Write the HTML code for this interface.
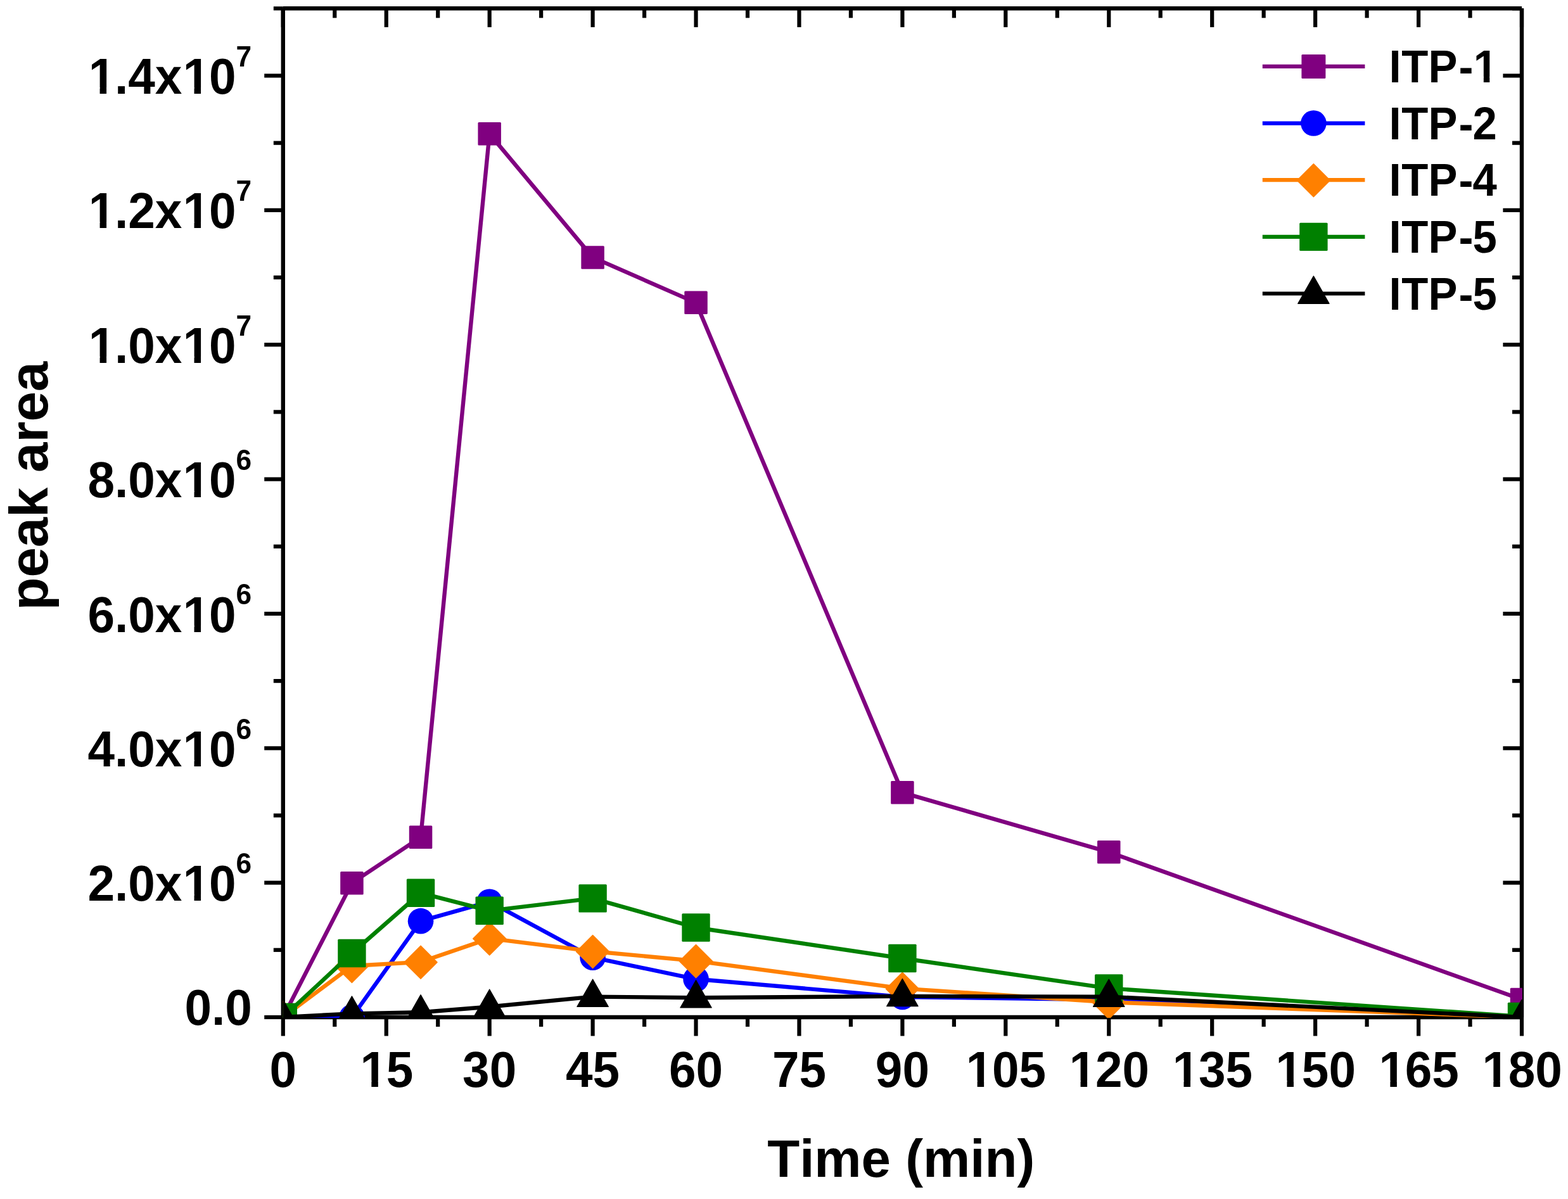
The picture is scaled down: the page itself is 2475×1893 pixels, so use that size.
<!DOCTYPE html>
<html lang="en"><head><meta charset="utf-8"><title>peak area vs Time (min)</title>
<style>html,body{margin:0;padding:0;background:#fff;}body{width:2475px;height:1893px;overflow:hidden;}svg{display:block;}text{font-family:'Liberation Sans', Arial, Helvetica, sans-serif;font-weight:bold;fill:#000;font-kerning:none;}</style></head><body>
<svg width="2475" height="1893" viewBox="0 0 2475 1893" role="img" aria-label="peak area versus Time (min) for ITP-1, ITP-2, ITP-4, ITP-5">
<rect width="2475" height="1893" fill="#fff"/>
<defs><clipPath id="plotclip"><rect x="446.5" y="13.3" width="1956.4" height="1593.7"/></clipPath></defs>
<g stroke="#000" stroke-width="6.4" stroke-linecap="butt" fill="none">
<line x1="446.8" y1="13.3" x2="2402" y2="13.3"/>
<line x1="446.8" y1="1606" x2="2402" y2="1606"/>
<line x1="446.8" y1="13.3" x2="446.8" y2="1606"/>
<line x1="2402" y1="13.3" x2="2402" y2="1606"/>
</g>
<g stroke="#000" stroke-width="6.2" stroke-linecap="butt">
<line x1="446.8" y1="1606" x2="446.8" y2="1635.6"/>
<line x1="446.8" y1="13.3" x2="446.8" y2="42.9"/>
<line x1="528.27" y1="1606" x2="528.27" y2="1621"/>
<line x1="528.27" y1="13.3" x2="528.27" y2="28.3"/>
<line x1="609.73" y1="1606" x2="609.73" y2="1635.6"/>
<line x1="609.73" y1="13.3" x2="609.73" y2="42.9"/>
<line x1="691.2" y1="1606" x2="691.2" y2="1621"/>
<line x1="691.2" y1="13.3" x2="691.2" y2="28.3"/>
<line x1="772.67" y1="1606" x2="772.67" y2="1635.6"/>
<line x1="772.67" y1="13.3" x2="772.67" y2="42.9"/>
<line x1="854.13" y1="1606" x2="854.13" y2="1621"/>
<line x1="854.13" y1="13.3" x2="854.13" y2="28.3"/>
<line x1="935.6" y1="1606" x2="935.6" y2="1635.6"/>
<line x1="935.6" y1="13.3" x2="935.6" y2="42.9"/>
<line x1="1017.07" y1="1606" x2="1017.07" y2="1621"/>
<line x1="1017.07" y1="13.3" x2="1017.07" y2="28.3"/>
<line x1="1098.53" y1="1606" x2="1098.53" y2="1635.6"/>
<line x1="1098.53" y1="13.3" x2="1098.53" y2="42.9"/>
<line x1="1180" y1="1606" x2="1180" y2="1621"/>
<line x1="1180" y1="13.3" x2="1180" y2="28.3"/>
<line x1="1261.47" y1="1606" x2="1261.47" y2="1635.6"/>
<line x1="1261.47" y1="13.3" x2="1261.47" y2="42.9"/>
<line x1="1342.93" y1="1606" x2="1342.93" y2="1621"/>
<line x1="1342.93" y1="13.3" x2="1342.93" y2="28.3"/>
<line x1="1424.4" y1="1606" x2="1424.4" y2="1635.6"/>
<line x1="1424.4" y1="13.3" x2="1424.4" y2="42.9"/>
<line x1="1505.87" y1="1606" x2="1505.87" y2="1621"/>
<line x1="1505.87" y1="13.3" x2="1505.87" y2="28.3"/>
<line x1="1587.33" y1="1606" x2="1587.33" y2="1635.6"/>
<line x1="1587.33" y1="13.3" x2="1587.33" y2="42.9"/>
<line x1="1668.8" y1="1606" x2="1668.8" y2="1621"/>
<line x1="1668.8" y1="13.3" x2="1668.8" y2="28.3"/>
<line x1="1750.27" y1="1606" x2="1750.27" y2="1635.6"/>
<line x1="1750.27" y1="13.3" x2="1750.27" y2="42.9"/>
<line x1="1831.73" y1="1606" x2="1831.73" y2="1621"/>
<line x1="1831.73" y1="13.3" x2="1831.73" y2="28.3"/>
<line x1="1913.2" y1="1606" x2="1913.2" y2="1635.6"/>
<line x1="1913.2" y1="13.3" x2="1913.2" y2="42.9"/>
<line x1="1994.67" y1="1606" x2="1994.67" y2="1621"/>
<line x1="1994.67" y1="13.3" x2="1994.67" y2="28.3"/>
<line x1="2076.13" y1="1606" x2="2076.13" y2="1635.6"/>
<line x1="2076.13" y1="13.3" x2="2076.13" y2="42.9"/>
<line x1="2157.6" y1="1606" x2="2157.6" y2="1621"/>
<line x1="2157.6" y1="13.3" x2="2157.6" y2="28.3"/>
<line x1="2239.07" y1="1606" x2="2239.07" y2="1635.6"/>
<line x1="2239.07" y1="13.3" x2="2239.07" y2="42.9"/>
<line x1="2320.53" y1="1606" x2="2320.53" y2="1621"/>
<line x1="2320.53" y1="13.3" x2="2320.53" y2="28.3"/>
<line x1="2402" y1="1606" x2="2402" y2="1635.6"/>
<line x1="2402" y1="13.3" x2="2402" y2="42.9"/>
<line x1="417.2" y1="1606" x2="446.8" y2="1606"/>
<line x1="2372.4" y1="1606" x2="2402" y2="1606"/>
<line x1="431.8" y1="1499.82" x2="446.8" y2="1499.82"/>
<line x1="2387" y1="1499.82" x2="2402" y2="1499.82"/>
<line x1="417.2" y1="1393.64" x2="446.8" y2="1393.64"/>
<line x1="2372.4" y1="1393.64" x2="2402" y2="1393.64"/>
<line x1="431.8" y1="1287.46" x2="446.8" y2="1287.46"/>
<line x1="2387" y1="1287.46" x2="2402" y2="1287.46"/>
<line x1="417.2" y1="1181.29" x2="446.8" y2="1181.29"/>
<line x1="2372.4" y1="1181.29" x2="2402" y2="1181.29"/>
<line x1="431.8" y1="1075.11" x2="446.8" y2="1075.11"/>
<line x1="2387" y1="1075.11" x2="2402" y2="1075.11"/>
<line x1="417.2" y1="968.93" x2="446.8" y2="968.93"/>
<line x1="2372.4" y1="968.93" x2="2402" y2="968.93"/>
<line x1="431.8" y1="862.75" x2="446.8" y2="862.75"/>
<line x1="2387" y1="862.75" x2="2402" y2="862.75"/>
<line x1="417.2" y1="756.57" x2="446.8" y2="756.57"/>
<line x1="2372.4" y1="756.57" x2="2402" y2="756.57"/>
<line x1="431.8" y1="650.39" x2="446.8" y2="650.39"/>
<line x1="2387" y1="650.39" x2="2402" y2="650.39"/>
<line x1="417.2" y1="544.21" x2="446.8" y2="544.21"/>
<line x1="2372.4" y1="544.21" x2="2402" y2="544.21"/>
<line x1="431.8" y1="438.04" x2="446.8" y2="438.04"/>
<line x1="2387" y1="438.04" x2="2402" y2="438.04"/>
<line x1="417.2" y1="331.86" x2="446.8" y2="331.86"/>
<line x1="2372.4" y1="331.86" x2="2402" y2="331.86"/>
<line x1="431.8" y1="225.68" x2="446.8" y2="225.68"/>
<line x1="2387" y1="225.68" x2="2402" y2="225.68"/>
<line x1="417.2" y1="119.5" x2="446.8" y2="119.5"/>
<line x1="2372.4" y1="119.5" x2="2402" y2="119.5"/>
<line x1="431.8" y1="13.32" x2="446.8" y2="13.32"/>
<line x1="2387" y1="13.32" x2="2402" y2="13.32"/>
</g>
<text transform="translate(446.8 1716) scale(0.994 1.031)" font-size="77" text-anchor="middle">0</text>
<g transform="translate(609.73 1716) scale(0.994 1.031)"><text x="-42.82" dx="1.31 -1.31" font-size="77" text-anchor="start">15</text><g fill="#fff"><rect x="-37.75" y="-9.74" width="14.21" height="10.49"/><rect x="-12.98" y="-9.74" width="13.2" height="10.49"/></g></g>
<text transform="translate(772.67 1716) scale(0.994 1.031)" font-size="77" text-anchor="middle">30</text>
<text transform="translate(935.6 1716) scale(0.994 1.031)" font-size="77" text-anchor="middle">45</text>
<text transform="translate(1098.53 1716) scale(0.994 1.031)" font-size="77" text-anchor="middle">60</text>
<text transform="translate(1261.47 1716) scale(0.994 1.031)" font-size="77" text-anchor="middle">75</text>
<text transform="translate(1424.4 1716) scale(0.994 1.031)" font-size="77" text-anchor="middle">90</text>
<g transform="translate(1587.33 1716) scale(0.994 1.031)"><text x="-64.24" dx="1.31 -1.31 0" font-size="77" text-anchor="start">105</text><g fill="#fff"><rect x="-59.17" y="-9.74" width="14.21" height="10.49"/><rect x="-34.39" y="-9.74" width="13.2" height="10.49"/></g></g>
<g transform="translate(1750.27 1716) scale(0.994 1.031)"><text x="-64.24" dx="1.31 -1.31 0" font-size="77" text-anchor="start">120</text><g fill="#fff"><rect x="-59.17" y="-9.74" width="14.21" height="10.49"/><rect x="-34.39" y="-9.74" width="13.2" height="10.49"/></g></g>
<g transform="translate(1913.2 1716) scale(0.994 1.031)"><text x="-64.24" dx="1.31 -1.31 0" font-size="77" text-anchor="start">135</text><g fill="#fff"><rect x="-59.17" y="-9.74" width="14.21" height="10.49"/><rect x="-34.39" y="-9.74" width="13.2" height="10.49"/></g></g>
<g transform="translate(2076.13 1716) scale(0.994 1.031)"><text x="-64.24" dx="1.31 -1.31 0" font-size="77" text-anchor="start">150</text><g fill="#fff"><rect x="-59.17" y="-9.74" width="14.21" height="10.49"/><rect x="-34.39" y="-9.74" width="13.2" height="10.49"/></g></g>
<g transform="translate(2239.07 1716) scale(0.994 1.031)"><text x="-64.24" dx="1.31 -1.31 0" font-size="77" text-anchor="start">165</text><g fill="#fff"><rect x="-59.17" y="-9.74" width="14.21" height="10.49"/><rect x="-34.39" y="-9.74" width="13.2" height="10.49"/></g></g>
<g transform="translate(2402 1716) scale(0.994 1.031)"><text x="-64.24" dx="1.31 -1.31 0" font-size="77" text-anchor="start">180</text><g fill="#fff"><rect x="-59.17" y="-9.74" width="14.21" height="10.49"/><rect x="-34.39" y="-9.74" width="13.2" height="10.49"/></g></g>
<text transform="translate(397.8 1618.4) scale(0.994 1.031)" font-size="77" text-anchor="end">0.0</text>
<g transform="translate(372.5 1422.24) scale(0.994 1.031)"><text x="-235.51" dx="0 0 0 0 1.31 -1.31" font-size="77" text-anchor="start">2.0x10</text><g fill="#fff"><rect x="-80.58" y="-9.74" width="14.21" height="10.49"/><rect x="-55.8" y="-9.74" width="13.2" height="10.49"/></g></g>
<text transform="translate(372.5 1379.04) scale(0.994 1.031)" font-size="44.5" text-anchor="start">6</text>
<g transform="translate(372.5 1209.89) scale(0.994 1.031)"><text x="-235.51" dx="0 0 0 0 1.31 -1.31" font-size="77" text-anchor="start">4.0x10</text><g fill="#fff"><rect x="-80.58" y="-9.74" width="14.21" height="10.49"/><rect x="-55.8" y="-9.74" width="13.2" height="10.49"/></g></g>
<text transform="translate(372.5 1166.69) scale(0.994 1.031)" font-size="44.5" text-anchor="start">6</text>
<g transform="translate(372.5 997.53) scale(0.994 1.031)"><text x="-235.51" dx="0 0 0 0 1.31 -1.31" font-size="77" text-anchor="start">6.0x10</text><g fill="#fff"><rect x="-80.58" y="-9.74" width="14.21" height="10.49"/><rect x="-55.8" y="-9.74" width="13.2" height="10.49"/></g></g>
<text transform="translate(372.5 954.33) scale(0.994 1.031)" font-size="44.5" text-anchor="start">6</text>
<g transform="translate(372.5 785.17) scale(0.994 1.031)"><text x="-235.51" dx="0 0 0 0 1.31 -1.31" font-size="77" text-anchor="start">8.0x10</text><g fill="#fff"><rect x="-80.58" y="-9.74" width="14.21" height="10.49"/><rect x="-55.8" y="-9.74" width="13.2" height="10.49"/></g></g>
<text transform="translate(372.5 741.97) scale(0.994 1.031)" font-size="44.5" text-anchor="start">6</text>
<g transform="translate(372.5 572.81) scale(0.994 1.031)"><text x="-235.51" dx="1.31 -1.31 0 0 1.31 -1.31" font-size="77" text-anchor="start">1.0x10</text><g fill="#fff"><rect x="-230.44" y="-9.74" width="14.21" height="10.49"/><rect x="-205.67" y="-9.74" width="13.2" height="10.49"/><rect x="-80.58" y="-9.74" width="14.21" height="10.49"/><rect x="-55.8" y="-9.74" width="13.2" height="10.49"/></g></g>
<text transform="translate(372.5 529.61) scale(0.994 1.031)" font-size="44.5" text-anchor="start">7</text>
<g transform="translate(372.5 360.46) scale(0.994 1.031)"><text x="-235.51" dx="1.31 -1.31 0 0 1.31 -1.31" font-size="77" text-anchor="start">1.2x10</text><g fill="#fff"><rect x="-230.44" y="-9.74" width="14.21" height="10.49"/><rect x="-205.67" y="-9.74" width="13.2" height="10.49"/><rect x="-80.58" y="-9.74" width="14.21" height="10.49"/><rect x="-55.8" y="-9.74" width="13.2" height="10.49"/></g></g>
<text transform="translate(372.5 317.26) scale(0.994 1.031)" font-size="44.5" text-anchor="start">7</text>
<g transform="translate(372.5 148.1) scale(0.994 1.031)"><text x="-235.51" dx="1.31 -1.31 0 0 1.31 -1.31" font-size="77" text-anchor="start">1.4x10</text><g fill="#fff"><rect x="-230.44" y="-9.74" width="14.21" height="10.49"/><rect x="-205.67" y="-9.74" width="13.2" height="10.49"/><rect x="-80.58" y="-9.74" width="14.21" height="10.49"/><rect x="-55.8" y="-9.74" width="13.2" height="10.49"/></g></g>
<text transform="translate(372.5 104.9) scale(0.994 1.031)" font-size="44.5" text-anchor="start">7</text>
<text transform="translate(1422.2 1858.1) scale(0.994 1)" font-size="84" text-anchor="middle">Time (min)</text>
<text transform="translate(74.9 767.2) rotate(-90) scale(0.99 0.985)" font-size="86" text-anchor="middle">peak area</text>
<g clip-path="url(#plotclip)">
<polyline points="446.8,1606 555.42,1394.17 664.04,1321.87 772.67,211.34 935.6,406.39 1098.53,477.85 1424.4,1251.36 1750.27,1345.33 2402,1577.97" fill="none" stroke="#800080" stroke-width="6.4" stroke-linejoin="round" stroke-linecap="butt"/>
<rect x="428.55" y="1587.75" width="36.5" height="36.5" rx="1.5" fill="#800080"/>
<rect x="537.17" y="1375.92" width="36.5" height="36.5" rx="1.5" fill="#800080"/>
<rect x="645.79" y="1303.62" width="36.5" height="36.5" rx="1.5" fill="#800080"/>
<rect x="754.42" y="193.09" width="36.5" height="36.5" rx="1.5" fill="#800080"/>
<rect x="917.35" y="388.14" width="36.5" height="36.5" rx="1.5" fill="#800080"/>
<rect x="1080.28" y="459.6" width="36.5" height="36.5" rx="1.5" fill="#800080"/>
<rect x="1406.15" y="1233.11" width="36.5" height="36.5" rx="1.5" fill="#800080"/>
<rect x="1732.02" y="1327.08" width="36.5" height="36.5" rx="1.5" fill="#800080"/>
<rect x="2383.75" y="1559.72" width="36.5" height="36.5" rx="1.5" fill="#800080"/>
<polyline points="446.8,1606 555.42,1606 664.04,1454.16 772.67,1423.69 935.6,1511.71 1098.53,1545.8 1424.4,1573.93 1750.27,1578.39 2402,1606" fill="none" stroke="#0000FF" stroke-width="6.4" stroke-linejoin="round" stroke-linecap="butt"/>
<circle cx="446.8" cy="1606" r="20.3" fill="#0000FF"/>
<circle cx="555.42" cy="1606" r="20.3" fill="#0000FF"/>
<circle cx="664.04" cy="1454.16" r="20.3" fill="#0000FF"/>
<circle cx="772.67" cy="1423.69" r="20.3" fill="#0000FF"/>
<circle cx="935.6" cy="1511.71" r="20.3" fill="#0000FF"/>
<circle cx="1098.53" cy="1545.8" r="20.3" fill="#0000FF"/>
<circle cx="1424.4" cy="1573.93" r="20.3" fill="#0000FF"/>
<circle cx="1750.27" cy="1578.39" r="20.3" fill="#0000FF"/>
<circle cx="2402" cy="1606" r="20.3" fill="#0000FF"/>
<polyline points="446.8,1606 555.42,1524.99 664.04,1518.83 772.67,1481.56 935.6,1501.94 1098.53,1517.13 1424.4,1560.66 1750.27,1582.22 2402,1606" fill="none" stroke="#FF8000" stroke-width="6.4" stroke-linejoin="round" stroke-linecap="butt"/>
<polygon points="446.8,1580.5 472.8,1606.5 446.8,1632.5 420.8,1606.5" fill="#FF8000" stroke="#FF8000" stroke-width="1.5" stroke-linejoin="round"/>
<polygon points="555.42,1499.49 581.42,1525.49 555.42,1551.49 529.42,1525.49" fill="#FF8000" stroke="#FF8000" stroke-width="1.5" stroke-linejoin="round"/>
<polygon points="664.04,1493.33 690.04,1519.33 664.04,1545.33 638.04,1519.33" fill="#FF8000" stroke="#FF8000" stroke-width="1.5" stroke-linejoin="round"/>
<polygon points="772.67,1456.06 798.67,1482.06 772.67,1508.06 746.67,1482.06" fill="#FF8000" stroke="#FF8000" stroke-width="1.5" stroke-linejoin="round"/>
<polygon points="935.6,1476.44 961.6,1502.44 935.6,1528.44 909.6,1502.44" fill="#FF8000" stroke="#FF8000" stroke-width="1.5" stroke-linejoin="round"/>
<polygon points="1098.53,1491.63 1124.53,1517.63 1098.53,1543.63 1072.53,1517.63" fill="#FF8000" stroke="#FF8000" stroke-width="1.5" stroke-linejoin="round"/>
<polygon points="1424.4,1535.16 1450.4,1561.16 1424.4,1587.16 1398.4,1561.16" fill="#FF8000" stroke="#FF8000" stroke-width="1.5" stroke-linejoin="round"/>
<polygon points="1750.27,1556.72 1776.27,1582.72 1750.27,1608.72 1724.27,1582.72" fill="#FF8000" stroke="#FF8000" stroke-width="1.5" stroke-linejoin="round"/>
<polygon points="2402,1580.5 2428,1606.5 2402,1632.5 2376,1606.5" fill="#FF8000" stroke="#FF8000" stroke-width="1.5" stroke-linejoin="round"/>
<polyline points="446.8,1606 555.42,1505.02 664.04,1409.78 772.67,1437.81 935.6,1418.38 1098.53,1464.46 1424.4,1512.99 1750.27,1560.34 2402,1604.94" fill="none" stroke="#008000" stroke-width="6.4" stroke-linejoin="round" stroke-linecap="butt"/>
<rect x="424.6" y="1583.8" width="44.4" height="44.4" rx="1.5" fill="#008000"/>
<rect x="533.22" y="1482.82" width="44.4" height="44.4" rx="1.5" fill="#008000"/>
<rect x="641.84" y="1387.58" width="44.4" height="44.4" rx="1.5" fill="#008000"/>
<rect x="750.47" y="1415.61" width="44.4" height="44.4" rx="1.5" fill="#008000"/>
<rect x="913.4" y="1396.18" width="44.4" height="44.4" rx="1.5" fill="#008000"/>
<rect x="1076.33" y="1442.26" width="44.4" height="44.4" rx="1.5" fill="#008000"/>
<rect x="1402.2" y="1490.79" width="44.4" height="44.4" rx="1.5" fill="#008000"/>
<rect x="1728.07" y="1538.14" width="44.4" height="44.4" rx="1.5" fill="#008000"/>
<rect x="2379.8" y="1582.74" width="44.4" height="44.4" rx="1.5" fill="#008000"/>
<polyline points="446.8,1606 555.42,1600.37 664.04,1598.25 772.67,1589.54 935.6,1573.62 1098.53,1575.21 1424.4,1572.87 1750.27,1573.62 2402,1606" fill="none" stroke="#000000" stroke-width="6.4" stroke-linejoin="round" stroke-linecap="butt"/>
<polygon points="446.8,1578.4 471.5,1621.8 422.1,1621.8" fill="#000000" stroke="#000000" stroke-width="1.2" stroke-linejoin="round"/>
<polygon points="555.42,1572.77 580.12,1616.17 530.72,1616.17" fill="#000000" stroke="#000000" stroke-width="1.2" stroke-linejoin="round"/>
<polygon points="664.04,1570.65 688.74,1614.05 639.34,1614.05" fill="#000000" stroke="#000000" stroke-width="1.2" stroke-linejoin="round"/>
<polygon points="772.67,1561.94 797.37,1605.34 747.97,1605.34" fill="#000000" stroke="#000000" stroke-width="1.2" stroke-linejoin="round"/>
<polygon points="935.6,1546.02 960.3,1589.42 910.9,1589.42" fill="#000000" stroke="#000000" stroke-width="1.2" stroke-linejoin="round"/>
<polygon points="1098.53,1547.61 1123.23,1591.01 1073.83,1591.01" fill="#000000" stroke="#000000" stroke-width="1.2" stroke-linejoin="round"/>
<polygon points="1424.4,1545.27 1449.1,1588.67 1399.7,1588.67" fill="#000000" stroke="#000000" stroke-width="1.2" stroke-linejoin="round"/>
<polygon points="1750.27,1546.02 1774.97,1589.42 1725.57,1589.42" fill="#000000" stroke="#000000" stroke-width="1.2" stroke-linejoin="round"/>
<polygon points="2402,1578.4 2426.7,1621.8 2377.3,1621.8" fill="#000000" stroke="#000000" stroke-width="1.2" stroke-linejoin="round"/>
</g>
<line x1="1992.8" y1="104.9" x2="2154.4" y2="104.9" stroke="#800080" stroke-width="6.2"/>
<rect x="2054.4" y="85.9" width="38" height="38" rx="1.5" fill="#800080"/>
<g transform="translate(2192.5 130) scale(0.994 1.031)"><text dx="0 0.6 0.2 2 0.38" font-size="69.3" text-anchor="start">ITP-1</text><g fill="#fff"><rect x="137.45" y="-8.76" width="12.79" height="9.44"/><rect x="159.75" y="-8.76" width="11.88" height="9.44"/></g></g>
<line x1="1992.8" y1="194.55" x2="2154.4" y2="194.55" stroke="#0000FF" stroke-width="6.2"/>
<circle cx="2073.4" cy="194.55" r="20.3" fill="#0000FF"/>
<text transform="translate(2192.5 219.65) scale(0.994 1.031)" dx="0 0.6 0.2 2 -0.8" font-size="69.3" text-anchor="start">ITP-2</text>
<line x1="1992.8" y1="284.2" x2="2154.4" y2="284.2" stroke="#FF8000" stroke-width="6.2"/>
<polygon points="2073.4,258.7 2099.4,284.7 2073.4,310.7 2047.4,284.7" fill="#FF8000" stroke="#FF8000" stroke-width="1.5" stroke-linejoin="round"/>
<text transform="translate(2192.5 309.3) scale(0.994 1.031)" dx="0 0.6 0.2 2 -0.8" font-size="69.3" text-anchor="start">ITP-4</text>
<line x1="1992.8" y1="373.85" x2="2154.4" y2="373.85" stroke="#008000" stroke-width="6.2"/>
<rect x="2051.2" y="351.65" width="44.4" height="44.4" rx="1.5" fill="#008000"/>
<text transform="translate(2192.5 398.95) scale(0.994 1.031)" dx="0 0.6 0.2 2 -0.8" font-size="69.3" text-anchor="start">ITP-5</text>
<line x1="1992.8" y1="463.5" x2="2154.4" y2="463.5" stroke="#000000" stroke-width="6.2"/>
<polygon points="2073.4,435.9 2098.1,479.3 2048.7,479.3" fill="#000000" stroke="#000000" stroke-width="1.2" stroke-linejoin="round"/>
<text transform="translate(2192.5 488.6) scale(0.994 1.031)" dx="0 0.6 0.2 2 -0.8" font-size="69.3" text-anchor="start">ITP-5</text>
</svg></body></html>
